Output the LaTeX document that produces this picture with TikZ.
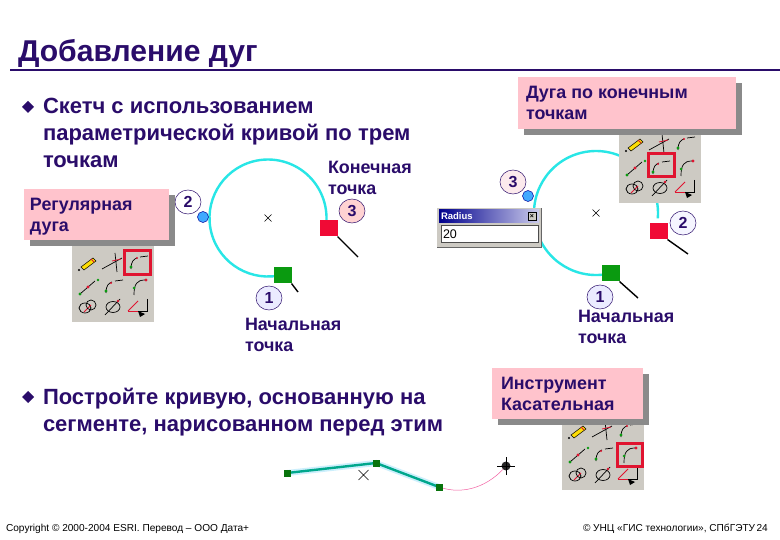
\documentclass[tikz,border=0pt]{standalone}
\usepackage{fontspec}
\setmainfont{Liberation Sans}
\usetikzlibrary{shapes.geometric}
\definecolor{ink}{HTML}{2A0C6A}
\definecolor{pinkbox}{HTML}{FFC3CC}
\definecolor{shadowgrey}{HTML}{8A8A8A}
\definecolor{tool}{HTML}{CDCAC3}
\definecolor{cyanarc}{HTML}{28E6E6}
\definecolor{hl}{HTML}{E01430}
\definecolor{gsq}{HTML}{0A9A10}
\definecolor{rsq}{HTML}{F00A35}
\definecolor{teal2}{HTML}{00A78C}
\tikzset{
  every node/.style={inner sep=0pt,outer sep=0pt},
  maintext/.style={text=ink,align=left,anchor=north west,font=\fontsize{22}{27}\selectfont\bfseries},
  labeltext/.style={text=ink,align=left,anchor=north west,font=\fontsize{17.9}{21.5}\selectfont\bfseries},
  pinkrect/.style={fill=pinkbox,draw=none},
  shadowrect/.style={fill=shadowgrey,draw=none},
  numlabel/.style={ellipse,draw=ink,line width=0.5pt,minimum width=26pt,minimum height=24pt,text=ink,font=\fontsize{16}{16}\selectfont\bfseries},
  arcline/.style={draw=cyanarc,line width=2.4pt},
  sqnode/.style={minimum width=17.5pt,minimum height=16.5pt},
  tick/.style={draw=black,line width=1.4pt},
  crossmark/.style={draw=black,line width=0.45pt},
  highlight/.style={draw=hl,line width=3pt,fill=none},
  ic/.style={draw=black,line width=0.7pt},
  icr/.style={draw=hl,line width=0.8pt},
  icg/.style={fill=gsq,draw=none},
  blueDot/.style={circle,fill=blue!45!cyan!75,draw=blue!60!black,line width=0.5pt,minimum size=11pt},
  bulletmark/.style={diamond,fill=ink,minimum width=12pt,minimum height=12pt},
  foot/.style={text=black,anchor=base west,font=\fontsize{10.1}{12}\selectfont},
}
\newcommand{\tbar}[2]{%
 \begin{scope}[shift={(#1,#2)}]
  \fill[tool] (0,0) rectangle (82,-78);
  % row 1
  \begin{scope}[shift={(16,-59)}]
   \fill[yellow!80!orange,draw=black,line width=0.5pt] (-7,4) -- (5,-5) -- (8,-2) -- (-4,7) -- cycle;
   \draw[icr] (3,-4) -- (6,-1);
   \fill[black] (-9,7) circle (1.2);
  \end{scope}
  \begin{scope}[shift={(41,-59)}]
   \draw[ic] (-11,6) -- (9,-5); \draw[ic] (2,-10) -- (4,9);
   \draw[icr] (-1,-2) -- (8,-4);
  \end{scope}
  \begin{scope}[shift={(66,-59)}]
   \draw[ic] (-7,6) .. controls (-7,-2) and (-4,-4) .. (-1,-5); \draw[ic] (2,-6) -- (10,-7);
   \fill[gsq] (-7,4) circle (1.6); \fill[hl] (-1,-5) circle (1.2);
  \end{scope}
  % row 2
  \begin{scope}[shift={(16,-35)}]
   \draw[ic] (-8,7) -- (7,-6);
   \fill[gsq] (-8,7) circle (1.6); \fill[gsq] (10,-7) circle (1.4); \fill[hl] (0,0) circle (1.6);
  \end{scope}
  \begin{scope}[shift={(41,-35)}]
   \draw[ic] (-7,6) .. controls (-7,-2) and (-4,-4) .. (-1,-5); \draw[ic] (2,-6) -- (10,-7);
   \fill[gsq] (-7,4) circle (1.6); \fill[hl] (-2,-4) circle (1.2);
  \end{scope}
  \begin{scope}[shift={(66,-35)}]
   \draw[ic] (-4,8) .. controls (-4,-3) and (-1,-7) .. (7,-7);
   \fill[gsq] (-4,1) circle (1.5); \fill[hl] (8,-7) circle (1.6);
  \end{scope}
  % row 3
  \begin{scope}[shift={(16,-15)}]
   \draw[ic] (-3,1) ellipse (6 and 5); \draw[icr] (3,-2) -- (-4,5);
   \draw[ic,rotate=0] (3,-2) ellipse (5 and 5);
  \end{scope}
  \begin{scope}[shift={(41,-15)}]
   \draw[ic] (0,0) ellipse (7 and 5.5); \draw[ic] (-8,8) -- (7,-8); \fill[hl] (5,-6) circle (1.3);
  \end{scope}
  \begin{scope}[shift={(66,-15)}]
   \draw[icr] (-10,4) -- (0,-6); \draw[icr] (-10,4) -- (7,4);
   \draw[ic] (9,-8) -- (9,4) -- (0,4);
   \fill[black] (0,4) -- (7,7) -- (2,10) -- cycle;
  \end{scope}
 \end{scope}}
\newcommand{\boxshadow}[4]{%
 \fill[shadowrect] (#1+6,#2+6) rectangle (#3+6,#4+6);
 \fill[pinkrect] (#1,#2) rectangle (#3,#4);}
\begin{document}
\begin{tikzpicture}[x=1pt,y=-1pt]
\useasboundingbox[fill=white] (0,0) rectangle (780,540);
% title
\node[anchor=base west,text=ink,font=\fontsize{30.1}{31}\selectfont\bfseries] (title) at (18,62) {Добавление дуг};
\coordinate (ruleL) at (10,70); \coordinate (ruleR) at (780,70);
\draw[draw=ink,line width=1.6pt] (ruleL) -- (ruleR);
% bullets + main text
\node[bulletmark] (b1) at (28,107) {};
\node[maintext] (m1) at (43,98) {Скетч с использованием\\параметрической кривой по трем\\точкам};
\node[bulletmark] (b2) at (28,397) {};
\node[maintext] (m2) at (43,388) {Постройте кривую, основанную на\\сегменте, нарисованном перед этим};
% left arc
\draw[arcline] (268,218) ++(75:58.5) arc[start angle=75,end angle=368,radius=58.5];
\draw[crossmark] (264.5,214.5) -- (271.5,221.5) (264.5,221.5) -- (271.5,214.5);
\coordinate (t1) at (358,257); \coordinate (t2) at (298,292);
\node[sqnode,fill=rsq,anchor=north west] (rs1) at (320,220) {};
\node[sqnode,fill=gsq,anchor=north west] (gs1) at (274,267) {};
\draw[tick] (rs1.south east) -- (t1);
\draw[tick] (gs1.south east) -- (t2);
\node[blueDot] (bd1) at (203,217) {};
\node[numlabel,fill=white] (n2) at (188,202) {2};
\node[labeltext] (endl) at (328,161) {Конечная\\точка};
\node[numlabel,fill=pink!70] (n3) at (352,211) {3};
\node[numlabel,fill=blue!8] (n1) at (269,298) {1};
\node[labeltext] (startl) at (245,318) {Начальная\\точка};
% left toolbar + box
\tbar{72}{322}
\node[highlight,minimum width=26pt,minimum height=24pt,anchor=north west] (h1) at (124,251) {};
\boxshadow{24}{189}{169}{240}
\node[labeltext] (reg) at (30,198) {Регулярная\\дуга};
% right arc
\draw[arcline] (596,213) ++(76:62) arc[start angle=76,end angle=365,radius=62];
\draw[crossmark] (592.5,209.5) -- (599.5,216.5) (592.5,216.5) -- (599.5,209.5);
\coordinate (t3) at (688,254); \coordinate (t4) at (638,298);
\node[sqnode,fill=rsq,anchor=north west] (rs2) at (650,223) {};
\node[sqnode,fill=gsq,anchor=north west] (gs2) at (602,265) {};
\draw[tick] (rs2.south east) -- (t3);
\draw[tick] (gs2.south east) -- (t4);
\node[blueDot] (bd2) at (528,196) {};
% radius window
\fill[tool] (437,208) rectangle (541,247);
\draw[draw=black!60,line width=0.6pt] (437,247) -- (541,247) -- (541,208);
\shade[left color=blue!55!black,right color=blue!15!white!85!gray] (439,210) rectangle (539,223);
\node[anchor=base west,text=white,font=\fontsize{9.5}{10}\selectfont\bfseries] (rt) at (441,220) {Radius};
\node[draw=black,fill=tool,minimum width=8pt,minimum height=8pt,font=\fontsize{7}{7}\selectfont\bfseries] (rx) at (532,216.5) {×};
\node[draw=black!70,fill=white,minimum width=97pt,minimum height=17pt,anchor=north west,line width=0.6pt] (rin) at (441,225) {};
\node[anchor=base west,text=black,font=\fontsize{12.5}{13}\selectfont] (rv) at (443,239) {20};
\node[numlabel,fill=blue!4!pink!30] (n3b) at (513,182) {3};
\node[numlabel,fill=blue!4] (n2b) at (683,223) {2};
\node[numlabel,fill=blue!8] (n1b) at (600,297) {1};
\node[labeltext] (startr) at (578,310) {Начальная\\точка};
% right toolbar + box
\tbar{619}{203}
\node[highlight,minimum width=26pt,minimum height=23pt,anchor=north west] (h2) at (648,154) {};
\boxshadow{518}{77}{736}{129}
\node[labeltext] (arcl) at (526,86) {Дуга по конечным\\точкам};
% bottom polyline
\coordinate (p1) at (287,473); \coordinate (p2) at (376,463); \coordinate (p3) at (439,487); \coordinate (p4) at (506,466);
\draw[draw=cyan!20,line width=6pt] (p1) -- (p2) -- (p3);
\draw[draw=magenta!50!pink,line width=0.5pt] (p3) .. controls (465,496) and (490,485) .. (p4);
\draw[draw=teal2,line width=2.4pt] (p1) -- (p2) -- (p3);
\node[fill=gsq!75!black,minimum size=7pt] (g1) at (p1) {};
\node[fill=gsq!75!black,minimum size=7pt] (g2) at (p2) {};
\node[fill=gsq!75!black,minimum size=7pt] (g3) at (p3) {};
\draw[crossmark] (358.5,470) -- (368.5,480) (358.5,480) -- (368.5,470);
\node[circle,fill=black!85,minimum size=9pt] (cur) at (p4) {};
\draw[draw=black,line width=0.9pt] ([xshift=-9pt]cur.center) -- ([xshift=9pt]cur.center) ([yshift=-9pt]cur.center) -- ([yshift=9pt]cur.center);
% bottom toolbar + box
\tbar{562}{490}
\node[highlight,minimum width=25pt,minimum height=23pt,anchor=north west] (h3) at (617,443) {};
\boxshadow{492}{368}{643}{419}
\node[labeltext] (tool) at (501,377) {Инструмент\\Касательная};
% footer
\node[foot] (f1) at (6,531) {Copyright © 2000-2004 ESRI. Перевод – ООО Дата+};
\node[foot] (f2) at (583,531) {© УНЦ «ГИС технологии», СПбГЭТУ};
\node[foot] (f3) at (756.5,531) {24};
\end{tikzpicture}
\end{document}
